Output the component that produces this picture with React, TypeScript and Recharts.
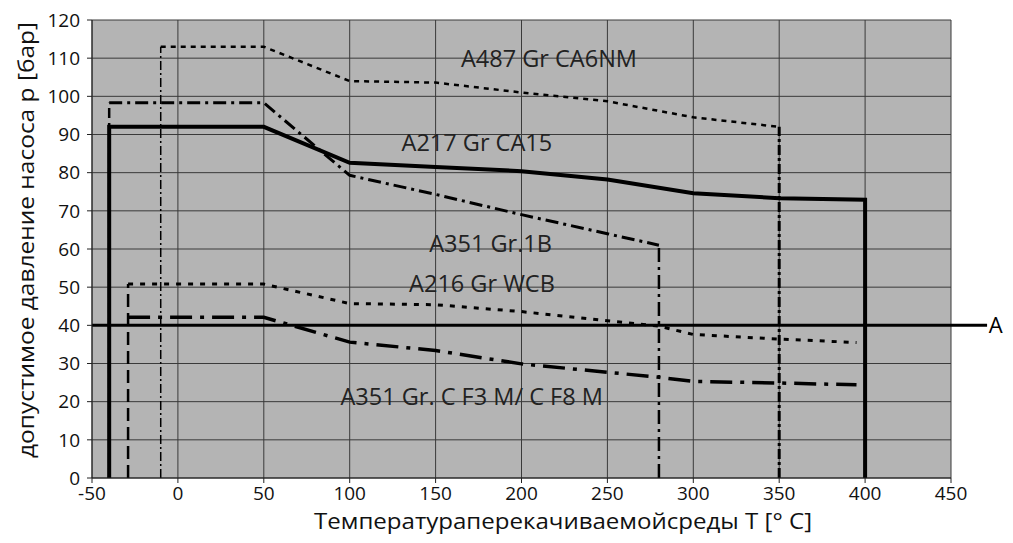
import { LineChart, Line, XAxis, YAxis, CartesianGrid, ReferenceLine, ReferenceDot, Label } from 'recharts';

// temperatures (°C) and allowed pressure (bar)
const ca6nmTemp = [-10, 50, 100, 150, 200, 250, 300, 350];
const ca6nmP = [113, 113, 104, 103.6, 101, 98.7, 94.5, 92];

const ca15Temp = [-40, 50, 100, 150, 200, 250, 300, 350, 400];
const ca15P = [92, 92, 82.6, 81.5, 80.4, 78.2, 74.6, 73.3, 72.9];

const gr1bTemp = [-40, 50, 100, 150, 200, 250, 280];
const gr1bP = [98.3, 98.3, 79.3, 74.3, 69, 64, 61];

const wcbTemp = [-29, 50, 100, 150, 200, 250, 280, 300, 350, 395];
const wcbP = [50.8, 50.8, 45.7, 45.4, 43.6, 41.2, 39.8, 37.6, 36.4, 35.5];

const cf3mTemp = [-29, 50, 100, 150, 200, 250, 280, 300, 350, 395];
const cf3mP = [42.1, 42.1, 35.6, 33.4, 29.9, 27.7, 26.4, 25.3, 24.9, 24.4];

const xTicks = [-50, 0, 50, 100, 150, 200, 250, 300, 350, 400, 450];
const yTicks = [0, 10, 20, 30, 40, 50, 60, 70, 80, 90, 100, 110, 120];

const limitA = 40;
const limitAEnd = 471;
const limitALabelT = 476;

const curveLabels = [
  { text: 'A487 Gr CA6NM', t: 216, p: 109.8 },
  { text: 'A217 Gr CA15', t: 174, p: 87.9 },
  { text: 'A351 Gr.1B', t: 182, p: 61.3 },
  { text: 'A216 Gr WCB', t: 177, p: 51 },
  { text: 'A351 Gr. C F3 M/ C F8 M', t: 171, p: 21.3 },
];

const yTitle = 'допустимое давление насоса р [бар]';
const xTitle = 'Температураперекачиваемойсреды T [° C]';

const rows = (t: number[], p: number[]) => t.map((x, i) => ({ t: x, p: p[i] }));
const vertical = (t: number, top: number) => [
  { t, p: 0 },
  { t, p: top },
];

const ca15Data = [{ t: ca15Temp[0], p: 0 }, ...rows(ca15Temp, ca15P), { t: ca15Temp[ca15Temp.length - 1], p: 0 }];

const FONT = '"Open Sans", sans-serif';

export default function App() {
  const common = { dataKey: 'p', dot: false, isAnimationActive: false, stroke: '#000', type: 'linear' as const, legendType: 'none' as const };
  return (
    <div style={{ margin: -8 }}>
      <style>{'html{overflow:hidden}'}</style>
      <LineChart width={1013} height={543} margin={{ top: 20, right: 62, left: 0, bottom: 0 }}>
        <CartesianGrid stroke="#3a3a3a" strokeWidth={1} fill="#b4b4b4" fillOpacity={1} />
        <XAxis
          dataKey="t"
          type="number"
          domain={[-50, 450]}
          ticks={xTicks}
          allowDuplicatedCategory
          height={65}
          tickSize={5}
          tickMargin={4}
          stroke="#222"
          tick={{ fill: '#111', fontSize: 19, fontFamily: FONT }}
        >
          <Label
            content={() => (
              <text x={563} y={529} textAnchor="middle" fontSize={22} fontFamily={FONT} fill="#111" textLength={498} lengthAdjust="spacingAndGlyphs">
                {xTitle}
              </text>
            )}
          />
        </XAxis>
        <YAxis
          type="number"
          domain={[0, 120]}
          ticks={yTicks}
          width={92}
          tickSize={5}
          tickMargin={7}
          stroke="#222"
          tick={{ fill: '#111', fontSize: 19, fontFamily: FONT }}
        >
          <Label
            content={() => (
              <text
                x={34}
                y={240}
                transform="rotate(-90 34 240)"
                textAnchor="middle"
                fontSize={21.5}
                fontFamily={FONT}
                fill="#111"
                textLength={436}
                lengthAdjust="spacingAndGlyphs"
              >
                {yTitle}
              </text>
            )}
          />
        </YAxis>

        {/* vertical drops */}
        <Line {...common} data={vertical(ca6nmTemp[0], ca6nmP[0])} strokeWidth={1.5} strokeDasharray="9 3 2 3" />
        <Line {...common} data={vertical(ca6nmTemp[ca6nmTemp.length - 1], ca6nmP[ca6nmP.length - 1])} strokeWidth={3} strokeDasharray="10 3 3 3" />
        <Line {...common} data={vertical(gr1bTemp[0], gr1bP[0])} strokeWidth={2.5} strokeDasharray="10 5" />
        <Line {...common} data={vertical(gr1bTemp[gr1bTemp.length - 1], gr1bP[gr1bP.length - 1])} strokeWidth={2.5} strokeDasharray="14 5 3 5" />
        <Line {...common} data={vertical(wcbTemp[0], wcbP[0])} strokeWidth={2.5} strokeDasharray="13 6" />

        {/* curves */}
        <Line {...common} data={rows(ca6nmTemp, ca6nmP)} strokeWidth={2.5} strokeDasharray="5 5" />
        <Line {...common} data={rows(gr1bTemp, gr1bP)} strokeWidth={3} strokeDasharray="13 5 3 5" />
        <Line {...common} data={rows(wcbTemp, wcbP)} strokeWidth={3} strokeDasharray="5 7" />
        <Line {...common} data={rows(cf3mTemp, cf3mP)} strokeWidth={3.5} strokeDasharray="22 8 4 8" />
        <Line {...common} data={ca15Data} strokeWidth={4} />

        <ReferenceLine
          segment={[
            { x: -50, y: limitA },
            { x: limitAEnd, y: limitA },
          ]}
          stroke="#000"
          strokeWidth={3}
          ifOverflow="visible"
        />
        <ReferenceDot
          x={limitALabelT}
          y={limitA}
          r={0}
          ifOverflow="visible"
          label={{ value: 'A', position: 'center', fontSize: 22, fontFamily: FONT, fill: '#000' }}
        />
        {curveLabels.map((l) => (
          <ReferenceDot
            key={l.text}
            x={l.t}
            y={l.p}
            r={0}
            ifOverflow="visible"
            label={{ value: l.text, position: 'center', fontSize: 23.5, fontFamily: FONT, fill: '#222' }}
          />
        ))}
      </LineChart>
    </div>
  );
}
